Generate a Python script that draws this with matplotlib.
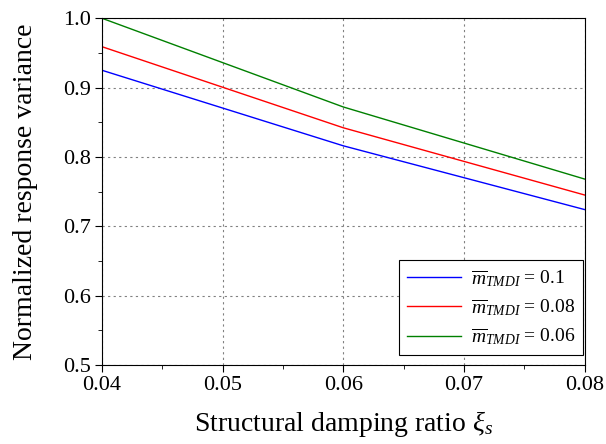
import numpy as np
import matplotlib
matplotlib.use("Agg")
import matplotlib.pyplot as plt
from matplotlib.ticker import MultipleLocator

plt.rcParams['font.family'] = 'Liberation Serif'
plt.rcParams['mathtext.fontset'] = 'custom'
plt.rcParams['mathtext.rm'] = 'Liberation Serif'
plt.rcParams['mathtext.it'] = 'Liberation Serif:italic'

xi = [0.04, 0.06, 0.08]
var_01 = [0.925, 0.816, 0.724]
var_008 = [0.959, 0.842, 0.745]
var_006 = [1.0, 0.872, 0.768]
labels = [r'$\overline{m}_{TMDI}$ = 0.1',
          r'$\overline{m}_{TMDI}$ = 0.08',
          r'$\overline{m}_{TMDI}$ = 0.06']

fig = plt.figure(figsize=(6.06, 4.44), dpi=100)
ax = fig.add_axes([0.168, 0.178, 0.797, 0.781])

ax.plot(xi, var_01, color='blue', lw=1, label=labels[0])
ax.plot(xi, var_008, color='red', lw=1, label=labels[1])
ax.plot(xi, var_006, color='green', lw=1, label=labels[2])

ax.set_xlim(0.04, 0.08)
ax.set_ylim(0.5, 1.0)
ax.xaxis.set_major_locator(MultipleLocator(0.01))
ax.xaxis.set_minor_locator(MultipleLocator(0.005))
ax.yaxis.set_major_locator(MultipleLocator(0.1))
ax.yaxis.set_minor_locator(MultipleLocator(0.05))
ax.xaxis.set_major_formatter(plt.FormatStrFormatter('%.2f'))
ax.yaxis.set_major_formatter(plt.FormatStrFormatter('%.1f'))
ax.tick_params(which='major', direction='out', length=5, labelsize=16, pad=3)
ax.tick_params(which='minor', direction='out', length=3)
ax.grid(True, which='major', linestyle=(0, (2, 3)), color='gray', lw=0.8)

ax.set_xlabel(r'Structural damping ratio $\xi_s$', fontsize=20, labelpad=10)
ax.set_ylabel('Normalized response variance', fontsize=20, labelpad=18)

leg = ax.legend(loc='lower right', bbox_to_anchor=(0.997, 0.029), fontsize=14,
                fancybox=False, edgecolor='black', framealpha=1, borderaxespad=0,
                handlelength=2.8, labelspacing=0.45, handletextpad=0.5)
leg.get_frame().set_linewidth(0.8)

fig.savefig('out.png', dpi=100)
